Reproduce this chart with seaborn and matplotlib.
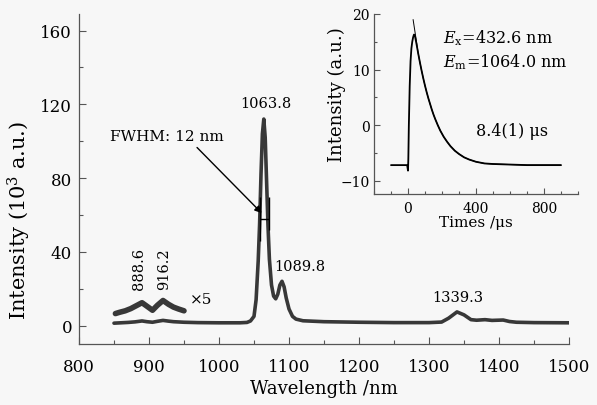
import numpy as np
import pandas as pd
import seaborn as sns
import matplotlib.pyplot as plt
from matplotlib.ticker import MultipleLocator

# emission spectrum
wl = [850, 860, 870, 880, 890, 897, 905, 912, 920, 928, 935, 950, 970, 1000,
      1030, 1040, 1045, 1050, 1053, 1056, 1058, 1060, 1062, 1064, 1066, 1068,
      1070, 1072, 1075, 1078, 1081, 1084, 1087, 1090, 1093, 1096, 1100, 1105,
      1110, 1120, 1150, 1200, 1250, 1300, 1318, 1328, 1340, 1350, 1360, 1368,
      1380, 1390, 1406, 1415, 1425, 1450, 1500]
intensity = [1.3, 1.5, 1.7, 2.0, 2.5, 2.1, 1.8, 2.3, 2.8, 2.4, 2.1, 1.8, 1.6, 1.5,
             1.5, 1.7, 2.5, 5, 14, 35, 55, 82, 104, 112, 102, 78,
             54, 36, 22, 16, 14.5, 17, 22, 24, 21, 15, 9, 5,
             3.5, 2.6, 2.1, 1.8, 1.6, 1.6, 1.9, 4, 7.4, 5.8, 3.2, 2.9,
             3.2, 2.8, 3.0, 2.2, 1.8, 1.6, 1.5]

# x5 magnified part
wl_x5 = [852, 858, 866, 874, 882, 890, 897, 905, 912, 920, 928, 935, 942, 950]
int_x5 = [6.5, 7.2, 8.0, 9.2, 10.8, 12.4, 10.5, 8.3, 11.0, 13.6, 11.5, 10.0, 9.0, 8.0]

# FWHM marker
fwhm_x = [1058, 1071]
fwhm_y = 58

# decay curve (inset)
t = [-100, -50, -5, 0, 2, 5, 10, 15, 20, 25, 30, 35, 40, 50, 60, 70, 80, 90,
     100, 110, 120, 130, 140, 150, 160, 175, 190, 210, 230, 250, 275, 300,
     330, 360, 400, 450, 500, 600, 700, 800, 900]
decay = [-7.2, -7.2, -7.2, -8.2, -6.0, 0.0, 7.0, 11.5, 13.8, 15.0, 15.8, 16.3,
         16.2, 14.6, 12.9, 11.3, 9.8, 8.4, 7.1, 5.9, 4.8, 3.8, 2.8, 1.9, 1.1,
         0.0, -1.0, -2.1, -3.0, -3.8, -4.6, -5.2, -5.8, -6.2, -6.6, -6.9, -7.0,
         -7.1, -7.2, -7.2, -7.2]
t_fit = [30, 35, 40, 50, 60, 70, 80, 90, 100, 110, 120, 130, 140, 150, 160,
         175, 190, 210, 230, 250, 275, 300, 330, 360, 400, 450, 500, 600, 700,
         800, 900]
decay_fit = [19.0, 18.0, 17.0, 15.0, 12.9, 11.3, 9.8, 8.4, 7.1, 5.9, 4.8, 3.8,
             2.8, 1.9, 1.1, 0.0, -1.0, -2.1, -3.0, -3.8, -4.6, -5.2, -5.8, -6.2,
             -6.6, -6.9, -7.0, -7.1, -7.2, -7.2, -7.2]

sns.set_style("ticks")
plt.rcParams['font.family'] = ['DejaVu Serif']
plt.rcParams['mathtext.fontset'] = 'dejavuserif'
plt.rcParams['xtick.direction'] = 'in'
plt.rcParams['ytick.direction'] = 'in'
plt.rcParams['text.color'] = 'black'
plt.rcParams['axes.labelcolor'] = 'black'
plt.rcParams['xtick.labelcolor'] = 'black'
plt.rcParams['ytick.labelcolor'] = 'black'

bg = '#f7f7f7'
line_c = '#383838'
spine_c = '#555555'

fig = plt.figure(figsize=(5.97, 4.06), dpi=100, facecolor=bg)
ax = fig.add_axes([79/597, 61/406, 490/597, 330/406], facecolor=bg)

sns.lineplot(x=wl, y=intensity, ax=ax, color=line_c, linewidth=2.6,
             estimator=None, sort=False)
sns.lineplot(x=wl_x5, y=int_x5, ax=ax, color=line_c, linewidth=4.0,
             estimator=None, sort=False)

ax.hlines(fwhm_y, fwhm_x[0], fwhm_x[1], color='black', lw=1.0)
ax.vlines(fwhm_x, [46, 52], [70, 70], color='black', lw=1.0)

ax.set_xlim(800, 1500)
ax.set_ylim(-10, 169)
ax.xaxis.set_major_locator(MultipleLocator(100))
ax.xaxis.set_minor_locator(MultipleLocator(50))
ax.yaxis.set_major_locator(MultipleLocator(40))
ax.yaxis.set_minor_locator(MultipleLocator(20))
ax.tick_params(which='major', length=5, width=0.8, color=spine_c, labelsize=12)
ax.tick_params(which='minor', length=3, width=0.8, color=spine_c)
ax.tick_params(axis='x', pad=10)
ax.tick_params(axis='y', pad=5)
for s in ['top', 'right']:
    ax.spines[s].set_visible(False)
for s in ['left', 'bottom']:
    ax.spines[s].set_color(spine_c)
    ax.spines[s].set_linewidth(0.9)

ax.set_xlabel('Wavelength /nm', fontsize=13, labelpad=3)
ax.set_ylabel('Intensity (10$^3$ a.u.)', fontsize=15)
ax.yaxis.set_label_coords(-0.094, 0.376)

ax.text(1067, 117, '1063.8', fontsize=10.5, ha='center', va='bottom')
ax.text(1116, 32.5, '1089.8', fontsize=10.5, ha='center', va='center')
ax.text(1341, 15.5, '1339.3', fontsize=10.5, ha='center', va='center')
ax.text(886, 20, '888.6', fontsize=10.5, ha='center', va='bottom', rotation=90)
ax.text(922, 20, '916.2', fontsize=10.5, ha='center', va='bottom', rotation=90)
ax.text(958, 14.6, '×5', fontsize=11, ha='left', va='center')
ax.annotate('FWHM: 12 nm', xy=(1061, 61), xytext=(844, 102.7),
            fontsize=11, ha='left', va='center',
            arrowprops=dict(arrowstyle='-|>', color='black', lw=1.0,
                            mutation_scale=10, relpos=(0.73, 0.0),
                            shrinkA=1, shrinkB=0))

# inset: decay curve
axin = fig.add_axes([374/597, 211/406, 204/597, 180/406], facecolor=bg)
sns.lineplot(x=t, y=decay, ax=axin, color='black', linewidth=1.3,
             estimator=None, sort=False)
sns.lineplot(x=t_fit, y=decay_fit, ax=axin, color='black', linewidth=0.7,
             estimator=None, sort=False)
axin.set_xlim(-200, 1000)
axin.set_ylim(-12.4, 20)
axin.xaxis.set_major_locator(MultipleLocator(400))
axin.xaxis.set_minor_locator(MultipleLocator(100))
axin.yaxis.set_major_locator(MultipleLocator(10))
axin.yaxis.set_minor_locator(MultipleLocator(5))
axin.tick_params(which='major', length=4, width=0.8, color=spine_c, labelsize=10)
axin.tick_params(which='minor', length=2.5, width=0.8, color=spine_c)
axin.tick_params(axis='x', pad=5)
axin.tick_params(axis='y', pad=3)
for s in ['top', 'right']:
    axin.spines[s].set_visible(False)
for s in ['left', 'bottom']:
    axin.spines[s].set_color(spine_c)
    axin.spines[s].set_linewidth(0.9)
axin.set_xlabel('Times /μs', fontsize=11, labelpad=0)
axin.set_ylabel('Intensity (a.u.)', fontsize=13)
axin.yaxis.set_label_coords(-0.135, 0.56)

axin.text(204, 15.9, r'$E_{\rm x}$=432.6 nm', fontsize=11.5, ha='left', va='center')
axin.text(204, 11.5, r'$E_{\rm m}$=1064.0 nm', fontsize=11.5, ha='left', va='center')
axin.text(610, -1, '8.4(1) μs', fontsize=11.5, ha='center', va='center')

fig.savefig('out.png', dpi=100, facecolor=bg)
